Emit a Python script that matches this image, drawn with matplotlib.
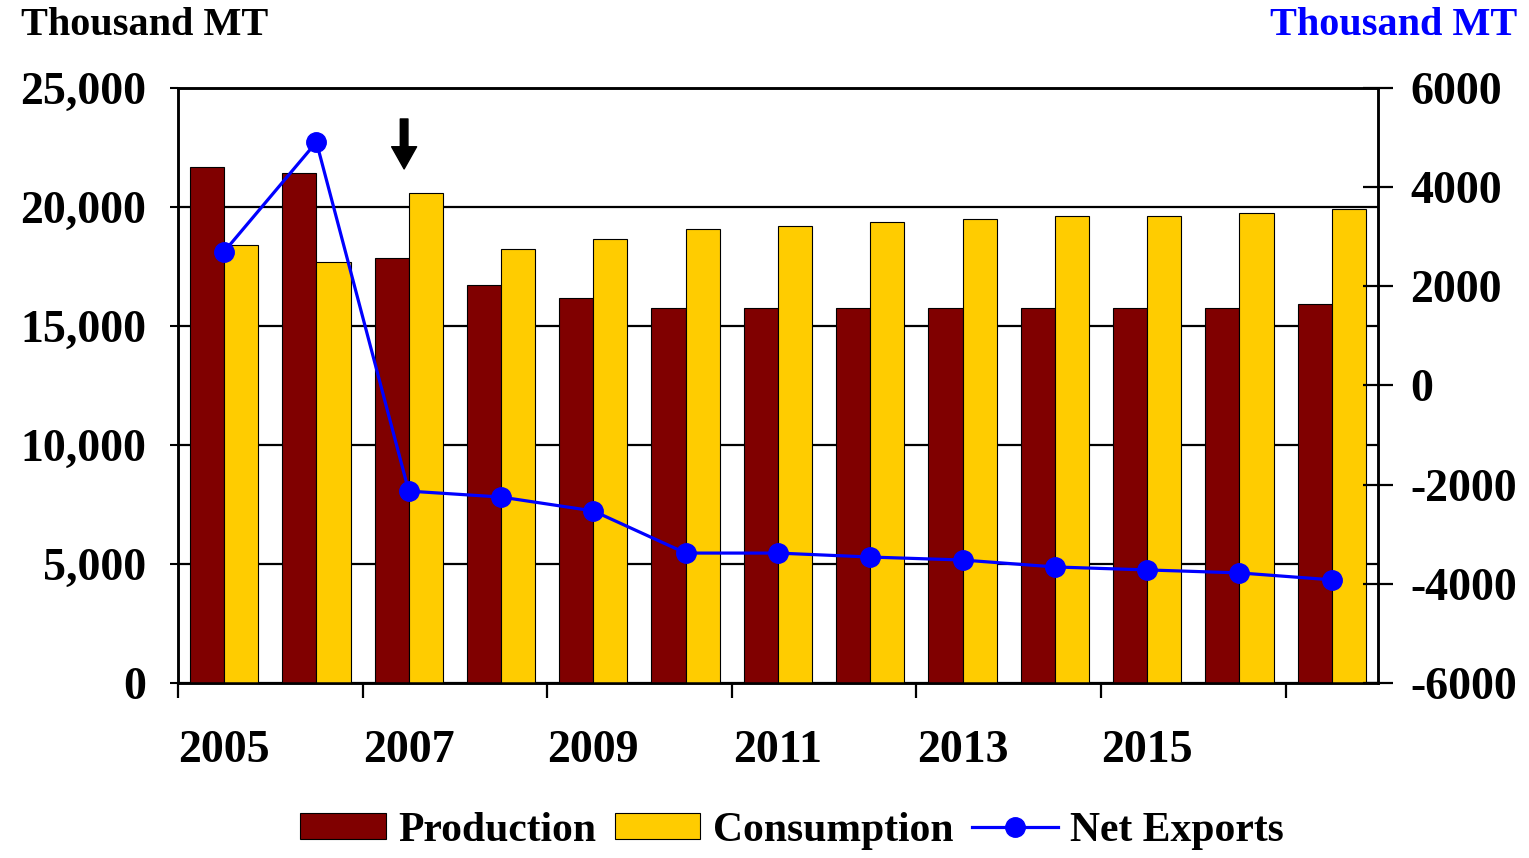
import numpy as np
import matplotlib
matplotlib.use("Agg")
from matplotlib import pyplot as plt

# data
years = [2005, 2006, 2007, 2008, 2009, 2010, 2011, 2012, 2013, 2014, 2015, 2016, 2017]
production = [21700, 21430, 17860, 16720, 16180, 15760, 15750, 15750, 15750, 15750, 15750, 15750, 15920]
consumption = [18400, 17690, 20590, 18240, 18650, 19080, 19200, 19370, 19500, 19620, 19620, 19750, 19920]
net_exports = [2700, 4910, -2130, -2250, -2530, -3380, -3380, -3460, -3520, -3660, -3720, -3780, -3920]
year_labels = ["2005", "2007", "2009", "2011", "2013", "2015"]

plt.rcParams['font.family'] = ['Liberation Serif', 'DejaVu Serif']
plt.rcParams['font.weight'] = 'bold'

fig = plt.figure(figsize=(15.29, 8.58), dpi=100)
ax = fig.add_axes([0.1164, 0.204, 0.7848, 0.6934])
ax2 = ax.twinx()

x = np.arange(len(years))
w = 0.37
ax.bar(x - w / 2, production, w, color='#800000', edgecolor='black', linewidth=0.8,
       label='Production', zorder=3)
ax.bar(x + w / 2, consumption, w, color='#FFCC00', edgecolor='black', linewidth=0.8,
       label='Consumption', zorder=3)

ax2.plot(x, net_exports, color='#0000FF', linewidth=2.3, marker='o', markersize=14,
         label='Net Exports', zorder=4)

# left axis
ax.set_xlim(-0.5, len(years) - 0.5)
ax.set_ylim(0, 25000)
ax.set_yticks(range(0, 25001, 5000))
ax.set_yticklabels([f"{v:,}" for v in range(0, 25001, 5000)], fontsize=33, fontweight='bold')
ax.yaxis.grid(True, color='black', linewidth=1.6, zorder=0)
ax.set_axisbelow(True)
ax.tick_params(axis='y', direction='out', length=6, width=1.5, pad=17)

# x ticks at group boundaries, labels centred on every other year
ax.set_xticks(np.arange(-0.5, 12, 2))
ax.set_xticklabels([])
ax.set_xticks(np.arange(0, 12, 2), minor=True)
ax.set_xticklabels(year_labels, minor=True, fontsize=33, fontweight='bold')
ax.tick_params(axis='x', which='major', direction='out', length=11, width=1.6)
ax.tick_params(axis='x', which='minor', length=0, pad=34)

# right axis
ax2.set_ylim(-6000, 6000)
ax2.set_yticks(range(-6000, 6001, 2000))
ax2.set_yticklabels([str(v) for v in range(-6000, 6001, 2000)], fontsize=33, fontweight='bold')
ax2.tick_params(axis='y', direction='inout', length=21, width=1.6, pad=13)

for a in (ax, ax2):
    for s in a.spines.values():
        s.set_linewidth(1.8)
        s.set_color('black')

# arrow above 2007
ax.annotate('', xy=(1.95, 21600), xytext=(1.95, 23700),
            arrowprops=dict(facecolor='black', edgecolor='black', width=5.5,
                            headwidth=18, headlength=16, shrink=0),
            zorder=5)

fig.text(0.014, 0.97, "Thousand MT", fontsize=29, fontweight='bold', va='center', ha='left')
fig.text(0.992, 0.97, "Thousand MT", fontsize=29, fontweight='bold', va='center',
         ha='right', color='#0000FF')

h1, l1 = ax.get_legend_handles_labels()
h2, l2 = ax2.get_legend_handles_labels()
fig.legend(h1 + h2, l1 + l2, loc='center', bbox_to_anchor=(0.518, 0.032), ncol=3,
           frameon=False, fontsize=30, handlelength=2.05, handleheight=0.6,
           columnspacing=0.45, handletextpad=0.3, borderaxespad=0)

fig.savefig("out.png", dpi=100)
